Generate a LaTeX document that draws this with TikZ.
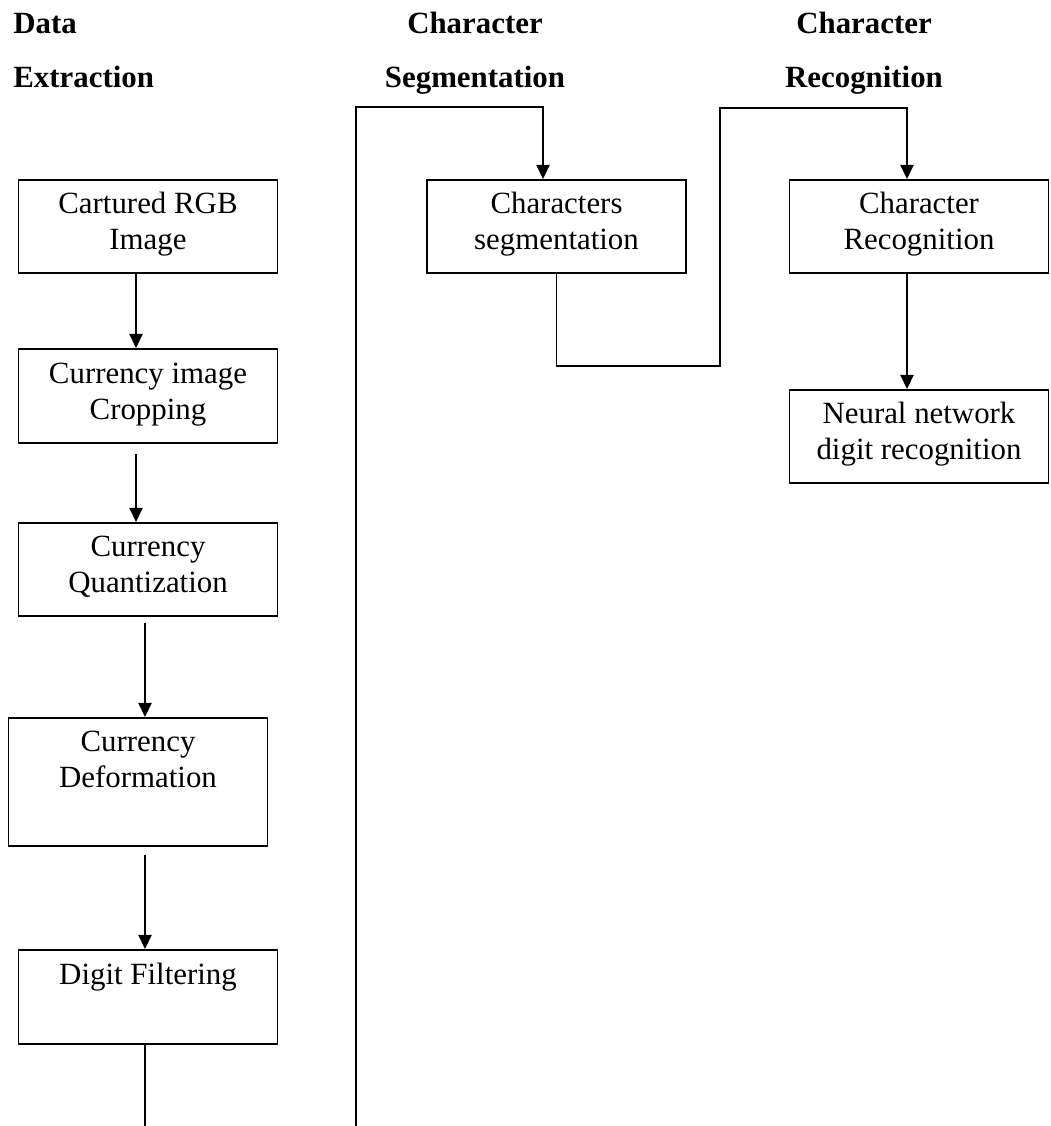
\documentclass[tikz,border=0pt]{standalone}
\usepackage{fontspec}
\setmainfont{Liberation Serif}
\usetikzlibrary{arrows.meta, positioning}

\newcommand{\boxfont}{\fontsize{17.5pt}{20.4pt}\selectfont}
\newcommand{\headfont}{\fontsize{17.5pt}{30.6pt}\selectfont\bfseries}
\newcommand{\bstrut}{\rule[-5.67pt]{0pt}{22.67pt}}

\tikzset{
	stage/.style={draw, line width=0.9pt, anchor=north, align=center,
		minimum width=146.8pt, minimum height=52.7pt, inner sep=0pt,
		font=\boxfont, execute at begin node=\bstrut, execute at end node=\bstrut},
	heading/.style={font=\headfont, inner sep=0pt},
	flow/.style={line width=0.9pt, -{Triangle[length=8pt, width=7.5pt]}},
	link/.style={line width=0.9pt},
}

\begin{document}
\begin{tikzpicture}[x=0.5669pt, y=-0.5669pt]
		\useasboundingbox (0,0) rectangle (1050,1126);

		% column titles (base = last line)
		\node (hData) [heading, anchor=base west, align=left] at (13,87) {Data\\Extraction};
		\node (hSeg) [heading, anchor=base, align=center] at (475,87) {Character\\Segmentation};
		\node (hRec) [heading, anchor=base, align=center] at (864,87) {Character\\Recognition};

		% data extraction
		\node (capt) [stage] at (148,179) {Cartured RGB\\Image};
		\node (crop) [stage, minimum height=53.3pt] at (148,348) {Currency image\\Cropping};
		\node (quant) [stage] at (148,522) {Currency\\Quantization};
		\node (deform) [stage, minimum height=72.6pt] at (138,717) {Currency\\Deformation\\};
		\node (filt) [stage, minimum height=53.3pt] at (148,949) {Digit Filtering\\};

		% segmentation and recognition
		\node (seg) [stage] at (556.5,179) {Characters\\segmentation};
		\node (recog) [stage] at (919,179) {Character\\Recognition};
		\node (neural) [stage] at (919,389) {Neural network\\digit recognition};

		\coordinate (laneA) at (136,0);
		\coordinate (laneB) at (145,0);
		\coordinate (endA) at (145,1126);
		\coordinate (endB) at (356,1126);

		\draw[flow] (capt.south -| laneA) -- (crop.north -| laneA);
		\draw[flow] ([yshift=-5.7pt]crop.south -| laneA) -- (quant.north -| laneA);
		\draw[flow] ([yshift=-3.4pt]quant.south -| laneB) -- (deform.north -| laneB);
		\draw[flow] ([yshift=-4.5pt]deform.south -| laneB) -- (filt.north -| laneB);
		\draw[link] (filt.south -| laneB) -- (endA);

		\draw[flow] (endB) -- (356,107) -| ([xshift=-7.65pt]seg.north);
		\draw[flow] (seg.south) |- (720,366) -- (720,108) -| ([xshift=-6.8pt]recog.north);
		\draw[flow] ([xshift=-6.8pt]recog.south) -- ([xshift=-6.8pt]neural.north);
	\end{tikzpicture}
\end{document}
